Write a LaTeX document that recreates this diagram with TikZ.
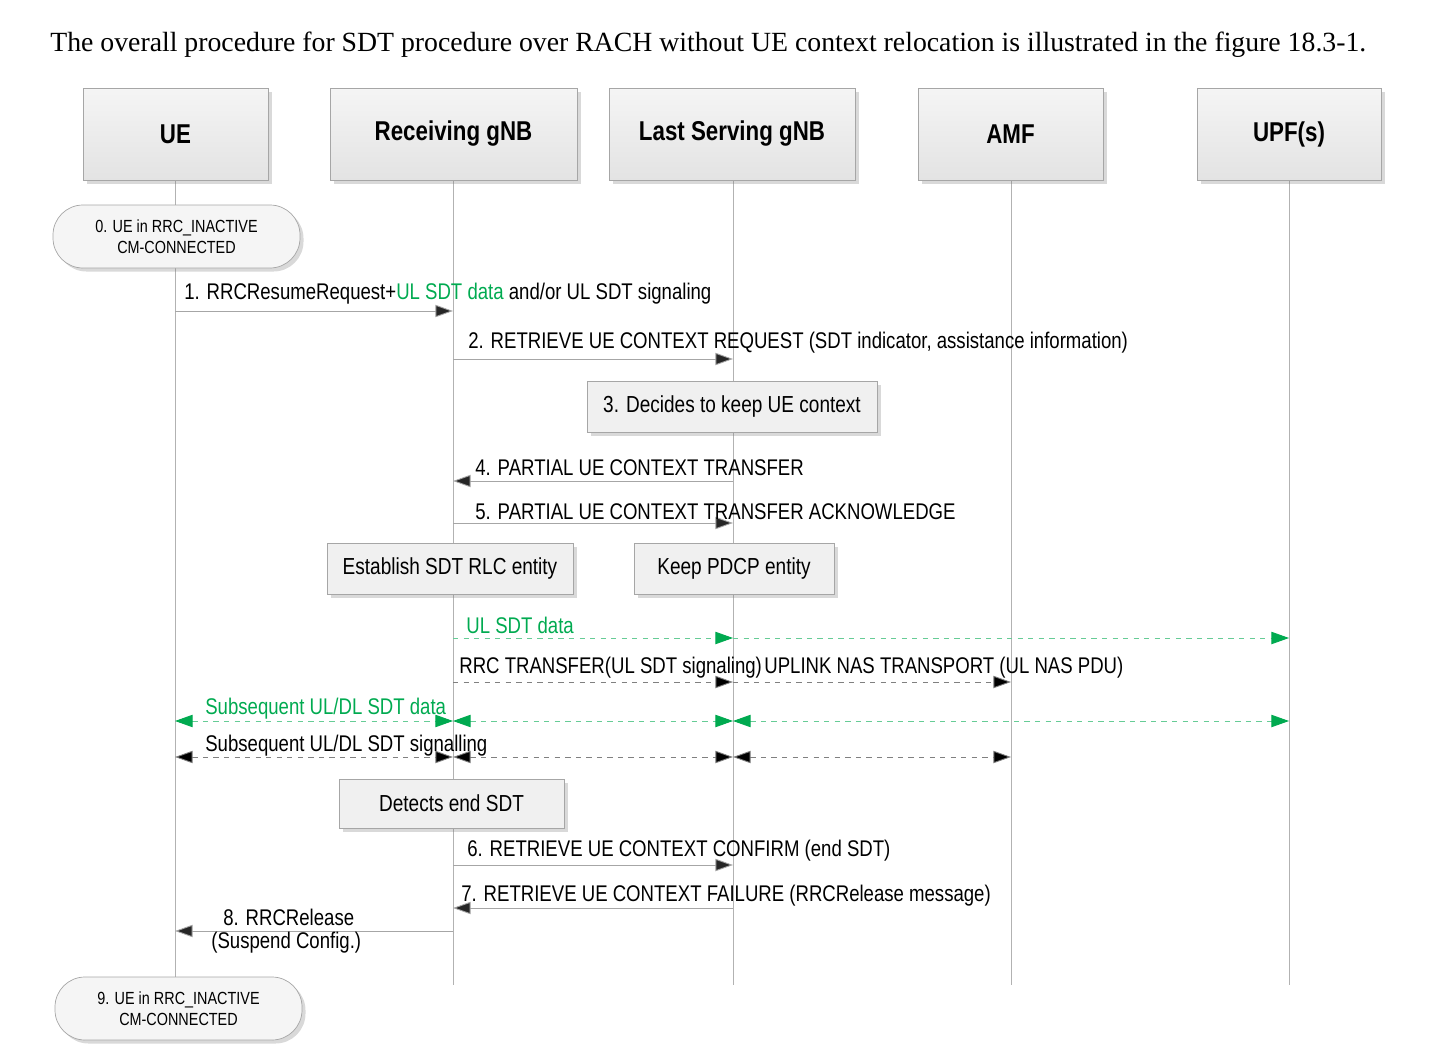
\documentclass[tikz,border=0pt]{standalone}
\usepackage{fontspec}
\setmainfont{Liberation Serif}
\newfontfamily\nar[FakeStretch=0.82]{Liberation Sans}
\usetikzlibrary{arrows.meta,shadows}
\definecolor{sdtg}{RGB}{0,170,80}
\begin{document}
\begin{tikzpicture}[x=0.02cm,y=-0.02cm,
  hdr/.style={draw=gray!70,top color=gray!8,bottom color=gray!22,drop shadow={opacity=0.3,shadow xshift=2pt,shadow yshift=-2pt},font=\nar\bfseries\fontsize{15.5}{17}\selectfont,inner sep=0},
  box/.style={draw=gray!70,fill=gray!12,drop shadow={opacity=0.3,shadow xshift=2pt,shadow yshift=-2pt},font=\nar\fontsize{13.2}{15}\selectfont,inner sep=0},
  st/.style={draw=gray!70,fill=gray!8,rounded corners=0.6cm,drop shadow={opacity=0.3,shadow xshift=2pt,shadow yshift=-2pt},font=\nar\fontsize{10}{12}\selectfont,align=center,inner sep=0},
  life/.style={draw=gray!60,line width=0.5pt},
  msg/.style={draw=gray!70,line width=0.5pt,-{Triangle[length=10pt,width=7pt]},arrows={[fill=gray!30!black]}},
  dm/.style={draw=gray,dashed,line width=0.5pt,-{Triangle[length=10pt,width=7pt,fill=black]}},
  dd/.style={draw=gray,dashed,line width=0.5pt,{Triangle[length=10pt,width=7pt,fill=black]}-{Triangle[length=10pt,width=7pt,fill=black]}},
  gm/.style={draw=sdtg!60,dashed,line width=0.5pt,-{Triangle[length=10pt,width=7pt,fill=sdtg]},arrows={[color=sdtg]}},
  gd/.style={draw=sdtg!60,dashed,line width=0.5pt,{Triangle[length=10pt,width=7pt,fill=sdtg,color=sdtg]}-{Triangle[length=10pt,width=7pt,fill=sdtg,color=sdtg]}},
  lab/.style={font=\nar\fontsize{12.9}{15}\selectfont,anchor=west,inner sep=0}]
\useasboundingbox (0,0) rectangle (1438,1058);
\node[anchor=west,inner sep=0,font=\fontsize{15.8}{17}\selectfont] (title) at (50,45) {The overall procedure for SDT procedure over RACH without UE context relocation is illustrated in the figure 18.3-1.};
% lifelines
\foreach \n/\x in {ue/175,rg/453,ls/733,amf/1011,upf/1289}{
  \coordinate (\n t) at (\x,180); \coordinate (\n b) at (\x,985);
  \draw[life] (\n t) -- (\n b);}
\node[hdr,minimum width=185*0.02cm,minimum height=92*0.02cm] (hue) at (175.5,134) {UE};
\node[hdr,minimum width=247*0.02cm,minimum height=92*0.02cm] (hrg) at (453.5,134) {Receiving gNB};
\node[hdr,minimum width=246*0.02cm,minimum height=92*0.02cm] (hls) at (732,134) {Last Serving gNB};
\node[hdr,minimum width=185*0.02cm,minimum height=92*0.02cm] (hamf) at (1010.5,134) {AMF};
\node[hdr,minimum width=184*0.02cm,minimum height=92*0.02cm] (hupf) at (1289,134) {UPF(s)};
\node[st,minimum width=247*0.02cm,minimum height=63*0.02cm] (s0) at (176.5,236.5) {0. UE in RRC\_INACTIVE\\CM-CONNECTED};
\node[st,minimum width=247*0.02cm,minimum height=63*0.02cm] (s9) at (178.5,1008.5) {9. UE in RRC\_INACTIVE\\CM-CONNECTED};
% coordinates
\foreach \y/\k in {311/1,359/2,481/4,523/5,638/a,682/b,721/c,757/d,865/6,908/7,931/8}{
  \coordinate (ue\k) at (175,\y); \coordinate (rg\k) at (453,\y); \coordinate (ls\k) at (733,\y);
  \coordinate (amf\k) at (1011,\y); \coordinate (upf\k) at (1289,\y);}
\draw[msg] (ue1) -- (rg1);
\node[lab] (l1) at (184,294) {1. RRCResumeRequest+\textcolor{sdtg}{UL SDT data} and/or UL SDT signaling};
\draw[msg] (rg2) -- (ls2);
\node[lab] (l2) at (468,343) {2. RETRIEVE UE CONTEXT REQUEST (SDT indicator, assistance information)};
\node[box,minimum width=290*0.02cm,minimum height=51*0.02cm] (b3) at (732,406.5) {3. Decides to keep UE context};
\draw[msg] (ls4) -- (rg4);
\node[lab] (l4) at (475,468) {4. PARTIAL UE CONTEXT TRANSFER};
\draw[msg] (rg5) -- (ls5);
\node[lab] (l5) at (475,512) {5. PARTIAL UE CONTEXT TRANSFER ACKNOWLEDGE};
\node[box,minimum width=246*0.02cm,minimum height=51*0.02cm] (be) at (450,568.5) {Establish SDT RLC entity};
\node[box,minimum width=200*0.02cm,minimum height=51*0.02cm] (bk) at (734,568.5) {Keep PDCP entity};
\draw[gm] (rga) -- (lsa);
\draw[gm] (lsa) -- (upfa);
\node[lab,text=sdtg] (la) at (466,625) {UL SDT data};
\draw[dm] (rgb) -- (lsb);
\draw[dm] (lsb) -- (amfb);
\node[lab] (lb) at (459,668) {RRC TRANSFER(UL SDT signaling)};
\node[lab] (lb2) at (764,668) {UPLINK NAS TRANSPORT (UL NAS PDU)};
\draw[gd] (uec) -- (rgc); \draw[gd] (rgc) -- (lsc); \draw[gd] (lsc) -- (upfc);
\node[lab,text=sdtg] (lc) at (205,709) {Subsequent UL/DL SDT data};
\draw[dd] (ued) -- (rgd); \draw[dd] (rgd) -- (lsd); \draw[dd] (lsd) -- (amfd);
\node[lab] (ld) at (205,746) {Subsequent UL/DL SDT signalling};
\node[box,minimum width=225*0.02cm,minimum height=49*0.02cm] (bd) at (451.5,803.5) {Detects end SDT};
\draw[msg] (rg6) -- (ls6);
\node[lab] (l6) at (467,851) {6. RETRIEVE UE CONTEXT CONFIRM (end SDT)};
\draw[msg] (ls7) -- (rg7);
\node[lab] (l7) at (461,896) {7. RETRIEVE UE CONTEXT FAILURE (RRCRelease message)};
\draw[msg] (rg8) -- (ue8);
\node[lab] (l8) at (223,917) {8. RRCRelease};
\node[lab] (l8b) at (211,943) {(Suspend Config.)};
\end{tikzpicture}
\end{document}
